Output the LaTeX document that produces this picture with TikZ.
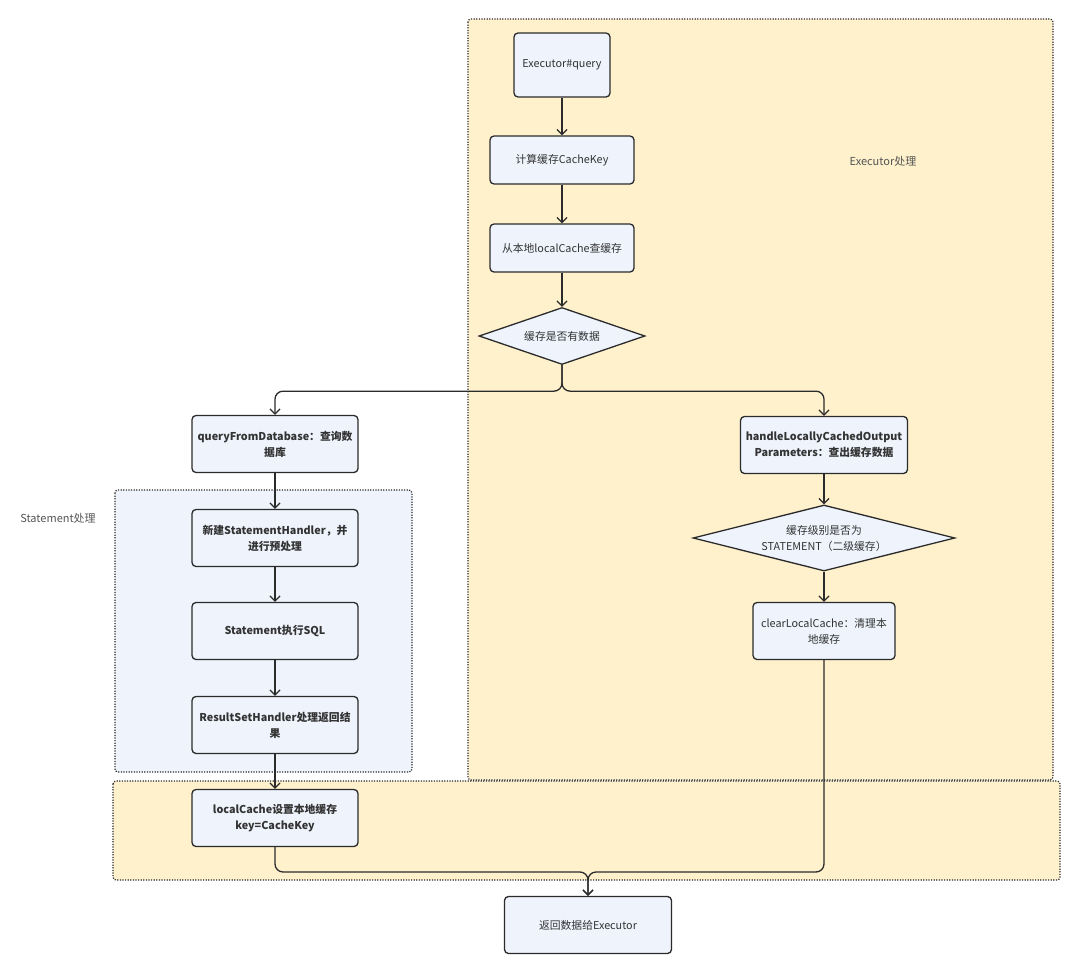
\documentclass[tikz,border=0pt]{standalone}
\usepackage{fontspec}
\setmainfont{Noto Sans CJK SC}
\usetikzlibrary{arrows.meta, shapes.geometric}
\definecolor{ink}{HTML}{2B2B2B}
\definecolor{txt}{HTML}{333333}
\definecolor{cream}{HTML}{FEF1CC}
\definecolor{paleblue}{HTML}{EEF3FC}
\definecolor{greytxt}{HTML}{555555}

\begin{document}
\begin{tikzpicture}[x=1pt, y=-1pt,
    box/.style={
      draw=ink, fill=paleblue, rounded corners=4pt,
      minimum width=144pt, minimum height=48pt,
      align=center, font=\fontsize{10.8}{16}\selectfont, text=txt,
      line width=1.3pt, inner sep=2pt
    },
    boldbox/.style={box, font=\fontsize{10.8}{16}\selectfont\bfseries},
    decision/.style={box, diamond, rounded corners=0pt, inner sep=0pt},
    arrow/.style={-{Straight Barb[length=5pt, width=10pt]}, ink, line width=1.3pt, rounded corners=8pt},
    region/.style={draw=ink, dash pattern=on 1.2pt off 1.4pt, line width=1.2pt, rounded corners=3pt},
    grouplabel/.style={font=\fontsize{11}{13}\selectfont, text=greytxt}
  ]
  \useasboundingbox (0,0) rectangle (1080,975);

  % groups
  \draw[region, fill=cream] (468,19) rectangle (1053,780);
  \draw[region, fill=cream] (113,781) rectangle (1060,880);
  \draw[region, fill=paleblue] (115,490) rectangle (412,772);
  \node[grouplabel] (execlabel) at (883,161) {Executor处理};
  \node[grouplabel] (stmtlabel) at (58,518) {Statement处理};

  % executor side
  \node[box, minimum width=96pt, minimum height=64pt] (query) at (562,65) {Executor\#query};
  \node[box] (key) at (562,160) {计算缓存CacheKey};
  \node[box] (local) at (562,248) {从本地localCache查缓存};
  \node[decision, aspect=2.9, minimum width=166pt, minimum height=57pt] (hasdata) at (562,336) {缓存是否有数据};

  % cache miss
  \node[boldbox, minimum width=166pt, minimum height=57pt] (qdb) at (275,444) {queryFromDatabase：查询数\\据库};
  \node[boldbox, minimum width=166pt, minimum height=57pt] (prep) at (275,538) {新建StatementHandler，并\\进行预处理};
  \node[boldbox, minimum width=166pt, minimum height=57pt] (sql) at (275,631) {Statement执行SQL};
  \node[boldbox, minimum width=166pt, minimum height=57pt] (rsh) at (275,725) {ResultSetHandler处理返回结\\果};
  \node[boldbox, minimum width=166pt, minimum height=57pt] (setcache) at (275,818) {localCache设置本地缓存\\key=CacheKey};

  % cache hit
  \node[boldbox, minimum width=167pt, minimum height=57pt] (handle) at (824,445) {handleLocallyCachedOutput\\Parameters：查出缓存数据};
  \node[decision, aspect=4, minimum width=262pt, minimum height=66pt] (level) at (824,538) {缓存级别是否为\\STATEMENT（二级缓存）};
  \node[box, minimum width=142pt, minimum height=57pt] (clear) at (824,631) {clearLocalCache：清理本\\地缓存};

  \node[box, minimum width=167pt, minimum height=57pt] (result) at (588,925) {返回数据给Executor};
  \coordinate (merge) at (588,872);

  \draw[arrow] (query) -- (key);
  \draw[arrow] (key) -- (local);
  \draw[arrow] (local) -- (hasdata);
  \draw[arrow] (hasdata.south) -- ++(0,26) -| (qdb.north);
  \draw[arrow] (hasdata.south) -- ++(0,26) -| (handle.north);
  \draw[arrow] (qdb) -- (prep);
  \draw[arrow] (prep) -- (sql);
  \draw[arrow] (sql) -- (rsh);
  \draw[arrow] (rsh) -- (setcache);
  \draw[arrow] (handle) -- (level);
  \draw[arrow] (level) -- (clear);
  \draw[arrow] (setcache.south) |- (merge) -- (result.north);
  \draw[arrow] (clear.south) |- (merge) -- (result.north);
\end{tikzpicture}
\end{document}
